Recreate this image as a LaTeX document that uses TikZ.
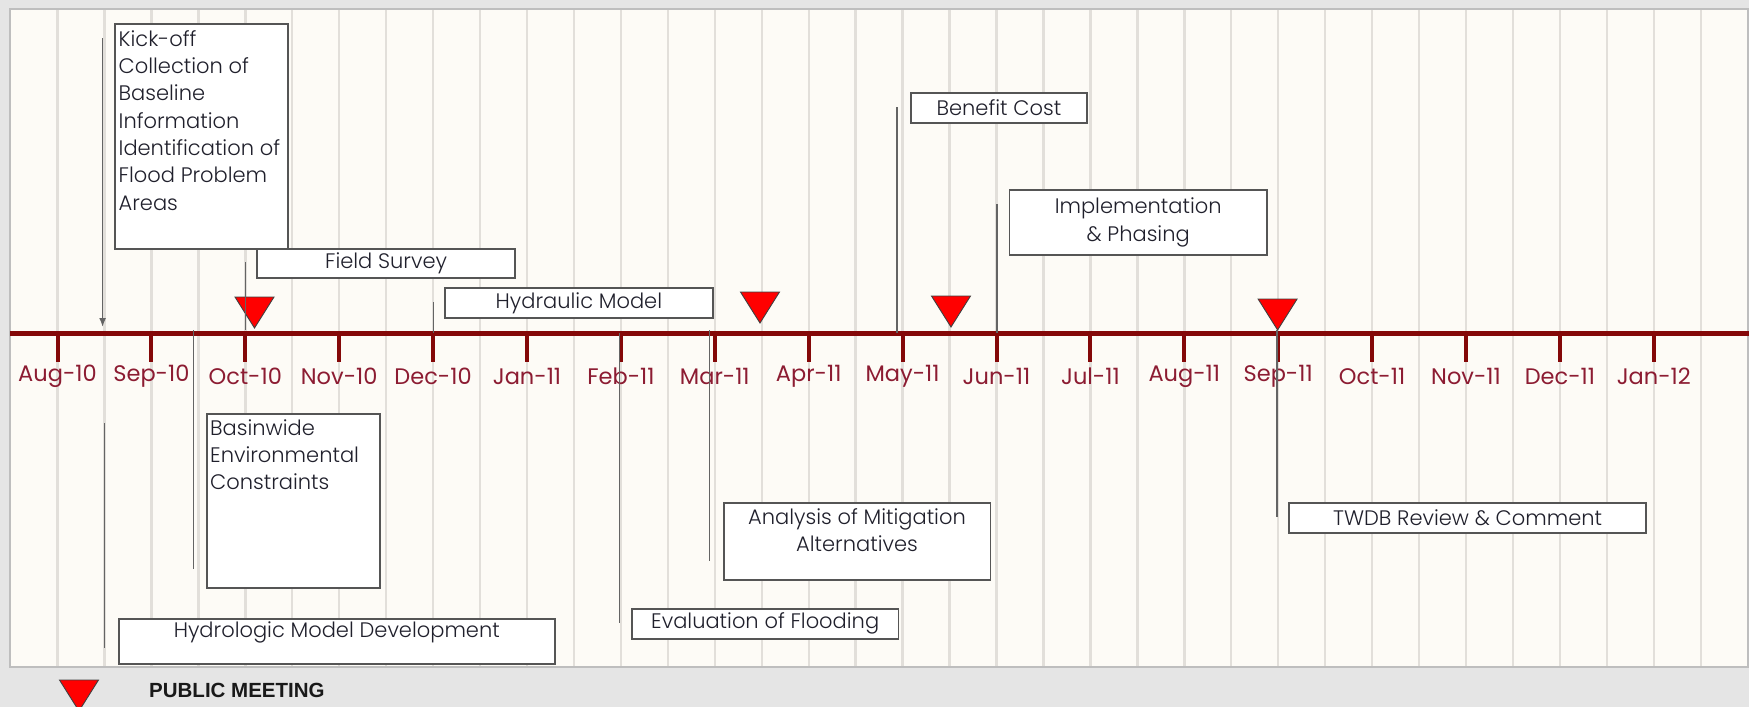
\documentclass[tikz,border=0pt]{standalone}
\usepackage{fontspec}
\setmainfont{Poppins}[UprightFont=* Light, BoldFont=* Medium]
\newfontfamily\mofam{Poppins}
\newfontfamily\lgfont{Liberation Sans}
\usetikzlibrary{arrows.meta}

\definecolor{outerbg}{RGB}{229,229,229}
\definecolor{panelbg}{RGB}{253,251,246}
\definecolor{panelline}{RGB}{190,190,190}
\definecolor{gridc}{RGB}{226,223,218}
\definecolor{axisred}{RGB}{132,8,8}
\definecolor{monthred}{RGB}{140,28,50}
\definecolor{boxline}{RGB}{85,85,85}
\definecolor{boxtextc}{RGB}{32,32,44}
\definecolor{connc}{RGB}{100,100,100}

\newcommand\bxfont{\fontsize{21}{27.3}\selectfont}
\newcommand\mofont{\mofam\fontsize{22.5}{27}\selectfont}

\tikzset{
  grid line/.style={draw=gridc, line width=2.4pt},
  axis line/.style={draw=axisred, line width=5pt},
  month tick/.style={draw=axisred, line width=4pt},
  month/.style={text=monthred, font=\mofont, inner sep=0pt},
  box/.style={draw=boxline, fill=white, line width=1.8pt, inner sep=0pt,
    anchor=north west, text=boxtextc, font=\bxfont, align=center},
  boxtxt/.style={text=boxtextc, font=\bxfont, inner sep=0pt},
  conn/.style={draw=connc, line width=1.6pt},
  meeting/.pic={\draw[fill=red, draw=black!75, line width=0.9pt, line join=miter]
    (0,0) -- (-19.5,-31) -- (19.5,-31) -- cycle;},
}

\begin{document}
\begin{tikzpicture}[x=1pt,y=-1pt]
\useasboundingbox (0,0) rectangle (1749,707);

% page and chart panel
\fill[outerbg] (0,0) rectangle (1749,707);
\draw[draw=panelline, fill=panelbg, line width=2pt] (10,9) rectangle (1747.5,667);

% half-month grid
\foreach \k in {0,...,35}
  \draw[grid line] (57.5+46.95*\k,10) -- (57.5+46.95*\k,666);

% time axis
\coordinate (axL) at (10,333);
\coordinate (axR) at (1749,333);
\draw[axis line] (axL) -- (axR);

% month ticks and labels
\foreach \m [count=\i from 0] in {Aug-10,Sep-10,Oct-10,Nov-10,Dec-10,Jan-11,Feb-11,Mar-11,Apr-11,May-11,Jun-11,Jul-11,Aug-11,Sep-11,Oct-11,Nov-11,Dec-11,Jan-12}{
  \coordinate (t\i) at (57.5+93.9*\i,333);
  \draw[month tick] (t\i) -- ++(0,29);
  \node[month] (m\i) at (57.5+93.9*\i,376) {\m};
}

% task boxes above the axis
\node[box, minimum width=173, minimum height=225,
  label={[boxtxt, align=left, anchor=west, xshift=4.5pt, yshift=16pt]west:{Kick-off\\Collection of\\Baseline\\Information\\Identification of\\Flood Problem\\Areas}}]
  (ko) at (114,23) {};
\node[box, minimum width=257.6, minimum height=29] (fs) at (256.4,248) {Field Survey};
\node[box, minimum width=268, minimum height=30] (hm) at (444,287) {Hydraulic Model};
\node[box, minimum width=176, minimum height=30] (bc) at (910,92) {Benefit Cost};
\node[box, minimum width=257.4, minimum height=65] (ip) at (1008.6,189) {Implementation\\\& Phasing};

% task boxes below the axis
\node[box, minimum width=173, minimum height=174,
  label={[boxtxt, align=left, anchor=west, xshift=4pt, yshift=46pt]west:{Basinwide\\Environmental\\Constraints}}]
  (bw) at (206,412.7) {};
\node[box, minimum width=435.8, minimum height=45,
  label={[boxtxt, anchor=center, yshift=9pt]center:{Hydrologic Model Development}}]
  (hd) at (118,618) {};
\node[box, minimum width=266.6, minimum height=30.3] (ev) at (631,607.7) {Evaluation of Flooding};
\node[box, minimum width=266.8, minimum height=77,
  label={[boxtxt, align=center, anchor=center, yshift=11pt]center:{Analysis of Mitigation\\Alternatives}}]
  (an) at (722.7,502) {};
\node[box, minimum width=357.4, minimum height=30.6] (tw) at (1288,501.7) {TWDB Review \& Comment};

% public meetings
\pic (pm1) at (254.5,328) {meeting};
\pic (pm2) at (760,323) {meeting};
\pic (pm3) at (951,327) {meeting};
\pic (pm4) at (1277.6,330) {meeting};

% leader lines from tasks to dates
\coordinate (ko-a) at (102.6,38);   \coordinate (ko-b) at (102.6,327);
\coordinate (fs-a) at (245.3,262);  \coordinate (fs-b) at (245.3,330);
\coordinate (hm-a) at (433.6,302);  \coordinate (hm-b) at (433.6,333);
\coordinate (bc-a) at (897,107);    \coordinate (bc-b) at (897,333);
\coordinate (ip-a) at (997,204);    \coordinate (ip-b) at (997,333);
\coordinate (bw-a) at (193.3,330);  \coordinate (bw-b) at (193.3,569);
\coordinate (hd-a) at (104.5,423);  \coordinate (hd-b) at (104.5,648);
\coordinate (ev-a) at (619.4,333);  \coordinate (ev-b) at (619.4,623);
\coordinate (an-a) at (709.4,330);  \coordinate (an-b) at (709.4,561);
\coordinate (tw-a) at (1277.2,330); \coordinate (tw-b) at (1277.2,517);
\draw[conn, -{Latex[length=9pt,width=7pt]}] (ko-a) -- (ko-b);
\foreach \c in {fs,hm,bc,ip,bw,hd,ev,an,tw}
  \draw[conn] (\c-a) -- (\c-b);

% legend
\pic (pmkey) at (79,711) {meeting};
\node[anchor=west, inner sep=0pt, font=\lgfont\bfseries\fontsize{20.5}{24}\selectfont, text=black!90] (key) at (149,690) {PUBLIC MEETING};
\end{tikzpicture}
\end{document}
